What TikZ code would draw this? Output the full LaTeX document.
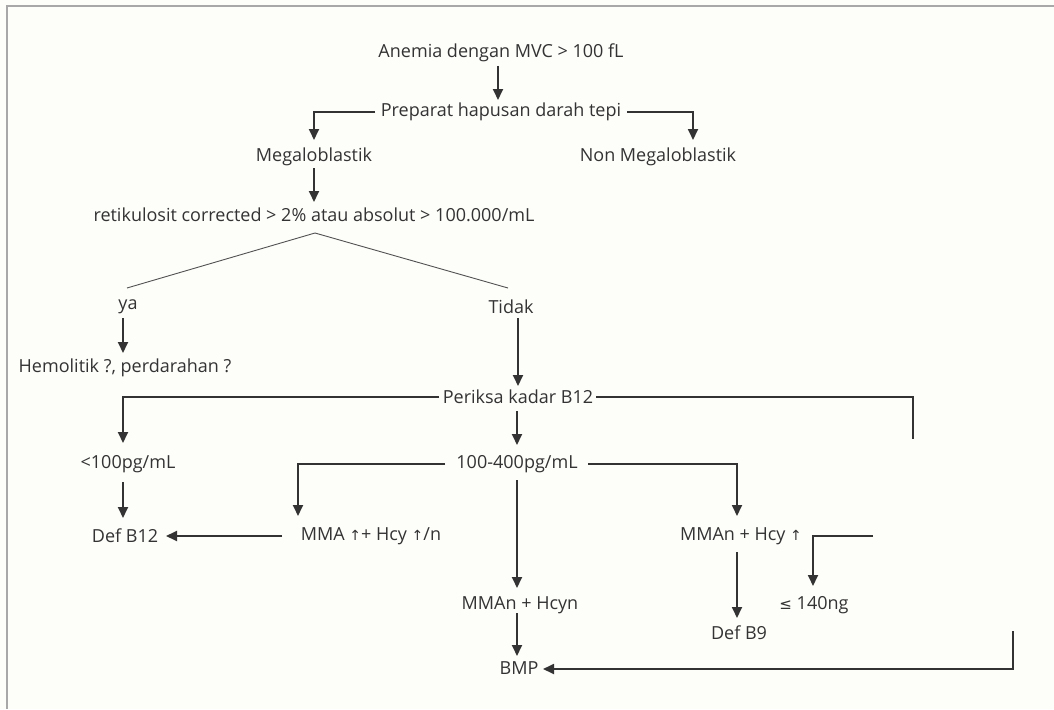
\documentclass[tikz,border=0pt]{standalone}
\usepackage{fontspec}
\setmainfont{Open Sans}
\newfontfamily\symfont{DejaVu Sans}
\usetikzlibrary{arrows.meta}
\definecolor{ink}{HTML}{333333}
\definecolor{frame}{HTML}{A8A8A8}
\definecolor{paper}{HTML}{FDFDFA}
\newcommand{\uparr}{{\symfont\fontsize{14}{16}\selectfont ↑}}
\newcommand{\lesseq}{{\symfont\fontsize{15}{16}\selectfont ≤}}
\begin{document}
\begin{tikzpicture}[x=1pt,y=-1pt,
  lbl/.style={inner sep=0pt,text=ink,font=\fontsize{18}{21}\selectfont},
  arr/.style={draw=ink,line width=1.8pt,-{Triangle[width=10pt,length=11pt]}},
  conn/.style={draw=ink,line width=1.8pt},
  split/.style={draw=ink!85,line width=0.9pt}]
  % page and frame
  \fill[paper] (0,0) rectangle (1054,709);
  \useasboundingbox (0,0) rectangle (1054,709);
  \draw[frame,line width=2pt] (7,709) -- (7,6) -- (1054,6);

  % labels
  \node[lbl] (anemia)  at (501,53)  {Anemia dengan MVC > 100 fL};
  \node[lbl] (prep)    at (501,112) {Preparat hapusan darah tepi};
  \node[lbl] (mega)    at (314,157) {Megaloblastik};
  \node[lbl] (nonmega) at (658,157) {Non Megaloblastik};
  \node[lbl] (retik)   at (314,215) {retikulosit corrected > 2\% atau absolut > 100.000/mL};
  \node[lbl] (ya)      at (128,307) {ya};
  \node[lbl] (tidak)   at (511,307) {Tidak};
  \node[lbl] (hemo)    at (125,368) {Hemolitik ?, perdarahan ?};
  \node[lbl] (periksa) at (518,397) {Periksa kadar B12};
  \node[lbl] (lt100)   at (128,464) {<100pg/mL};
  \node[lbl] (mid)     at (517,464) {100-400pg/mL};
  \node[lbl] (defb12)  at (125,536) {Def B12};
  \node[lbl] (mma)     at (371,536) {MMA \uparr+ Hcy \uparr/n};
  \node[lbl] (mmanhi)  at (741,536) {MMAn + Hcy \uparr};
  \node[lbl] (mmann)   at (520,605) {MMAn + Hcyn};
  \node[lbl] (le140)   at (814,605) {\lesseq{} 140ng};
  \node[lbl] (defb9)   at (739,633) {Def B9};
  \node[lbl] (bmp)     at (519,668) {BMP};

  % free line ends
  \coordinate (rb)  at (913,439);
  \coordinate (br)  at (873,536);
  \coordinate (lb)  at (1013,631);

  % connectors
  \draw[arr] ([shift={(-3,13)}]anemia.center) -- ([shift={(-3,-12)}]prep.center);
  \draw[arr] ([shift={(-126,0)}]prep.center) -| ([shift={(0,-17)}]mega.center);
  \draw[arr] ([shift={(126,0)}]prep.center) -| ([shift={(35,-17)}]nonmega.center);
  \draw[arr] ([shift={(0,11)}]mega.center) -- ([shift={(0,-13)}]retik.center);
  \draw[split] ([shift={(-1,-19)}]ya.center) -- ([shift={(1,18)}]retik.center)
               -- ([shift={(-3,-19)}]tidak.center);
  \draw[arr] ([shift={(-5,11)}]ya.center) -- ([shift={(-2,-15)}]hemo.center);
  \draw[arr] ([shift={(7,11)}]tidak.center) -- ([shift={(0,-11)}]periksa.center);
  \draw[arr] ([shift={(-79,0)}]periksa.center) -| ([shift={(-5,-21)}]lt100.center);
  \draw[conn] ([shift={(78,0)}]periksa.center) -| (rb);
  \draw[arr] ([shift={(-1,14)}]periksa.center) -- ([shift={(0,-19)}]mid.center);
  \draw[arr] ([shift={(-5,18)}]lt100.center) -- ([shift={(-2,-18)}]defb12.center);
  \draw[arr] ([shift={(-72,0)}]mid.center) -| ([shift={(-73,-20)}]mma.center);
  \draw[arr] ([shift={(71,0)}]mid.center) -| ([shift={(-4,-20)}]mmanhi.center);
  \draw[arr] ([shift={(-89,0)}]mma.center) -- ([shift={(41,0)}]defb12.center);
  \draw[arr] ([shift={(0,16)}]mid.center) -- ([shift={(-3,-17)}]mmann.center);
  \draw[arr] ([shift={(-4,16)}]mmanhi.center) -- ([shift={(-2,-15)}]defb9.center);
  \draw[arr] (br) -| ([shift={(-1,-19)}]le140.center);
  \draw[arr] ([shift={(-3,8)}]mmann.center) -- ([shift={(-2,-12)}]bmp.center);
  \draw[arr] (lb) |- ([shift={(24,1)}]bmp.center);
\end{tikzpicture}
\end{document}
